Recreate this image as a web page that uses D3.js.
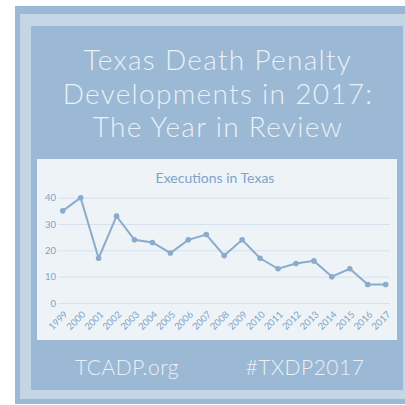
<!DOCTYPE html>
<html>
<head>
  <meta charset="utf-8">
  <style>
    body { margin: 0; background: #fff; }
    svg { display: block; }
  </style>
</head>
<body>
  <div id="chart"></div>
  <script src="https://d3js.org/d3.v7.min.js"></script>
  <script>
    var years = ['1999', '2000', '2001', '2002', '2003', '2004', '2005', '2006', '2007', '2008',
                 '2009', '2010', '2011', '2012', '2013', '2014', '2015', '2016', '2017'];
    var executions = [35, 40, 17, 33, 24, 23, 19, 24, 26, 18, 24, 17, 13, 15, 16, 10, 13, 7, 7];
    var yTicks = [0, 10, 20, 30, 40];
    var titleLines = ['Texas Death Penalty', 'Developments in 2017:', 'The Year in Review'];

    var font = 'Lato, "Open Sans", sans-serif';
    var svg = d3.select('#chart').append('svg')
        .attr('width', 405)
        .attr('height', 405);

    // frames
    svg.append('rect').attr('x', 15).attr('y', 6).attr('width', 395).attr('height', 398).attr('fill', '#9bb9d4');
    svg.append('rect').attr('x', 20).attr('y', 14).attr('width', 390).attr('height', 385).attr('fill', '#c4d5e6');
    svg.append('rect').attr('x', 31).attr('y', 26).attr('width', 372).attr('height', 364).attr('fill', '#9bb9d4');
    svg.append('rect').attr('x', 37).attr('y', 159).attr('width', 360).attr('height', 181).attr('fill', '#eef3f8');

    svg.append('g').selectAll('text')
        .data(titleLines)
        .join('text')
        .attr('x', 218)
        .attr('y', (d, i) => 70 + i * 33.5)
        .attr('text-anchor', 'middle')
        .attr('font-family', font)
        .attr('font-weight', 300)
        .attr('font-size', 28)
        .attr('letter-spacing', 1.3)
        .attr('fill', '#eaf0f6')
        .text(d => d);

    svg.append('text').attr('x', 127).attr('y', 375).attr('text-anchor', 'middle')
        .attr('font-family', font).attr('font-weight', 300).attr('font-size', 21)
        .attr('letter-spacing', 0.5)
        .attr('fill', '#eaf0f6').text('TCADP.org');
    svg.append('text').attr('x', 305).attr('y', 375).attr('text-anchor', 'middle')
        .attr('font-family', font).attr('font-weight', 300).attr('font-size', 21)
        .attr('letter-spacing', 0.5)
        .attr('fill', '#eaf0f6').text('#TXDP2017');

    // chart
    var x = d3.scalePoint().domain(years).range([62.7, 385.7]);
    var y = d3.scaleLinear().domain([0, 40]).range([303, 197.7]);

    svg.append('text').attr('x', 215).attr('y', 183).attr('text-anchor', 'middle')
        .attr('font-family', font).attr('font-size', 14)
        .attr('fill', '#7fa3c8').text('Executions in Texas');

    var yAxis = svg.append('g')
        .attr('transform', 'translate(58,0)')
        .call(d3.axisLeft(y).tickValues(yTicks).tickSize(-332).tickPadding(4));
    yAxis.select('.domain').remove();
    yAxis.selectAll('line').attr('stroke', '#d5e1ed').attr('stroke-width', 1);
    yAxis.selectAll('text').attr('fill', '#7fa3c8').attr('font-family', font).attr('font-size', 9.5)
        .attr('x', -2);

    var xAxis = svg.append('g')
        .attr('transform', 'translate(0,' + 306 + ')')
        .call(d3.axisBottom(x).tickSize(0).tickPadding(0));
    xAxis.select('.domain').remove();
    xAxis.selectAll('text')
        .attr('fill', '#7fa3c8').attr('font-family', font).attr('font-size', 9.5)
        .attr('text-anchor', 'end')
        .attr('dy', 0)
        .attr('transform', 'translate(5,9) rotate(-45)');

    var line = d3.line().x((d, i) => x(years[i])).y(d => y(d));
    svg.append('path').datum(executions)
        .attr('d', line)
        .attr('fill', 'none')
        .attr('stroke', '#8aabcb')
        .attr('stroke-width', 2);

    svg.append('g').selectAll('circle')
        .data(executions)
        .join('circle')
        .attr('cx', (d, i) => x(years[i]))
        .attr('cy', d => y(d))
        .attr('r', 2.8)
        .attr('fill', '#8aabcb');
  </script>
</body>
</html>
